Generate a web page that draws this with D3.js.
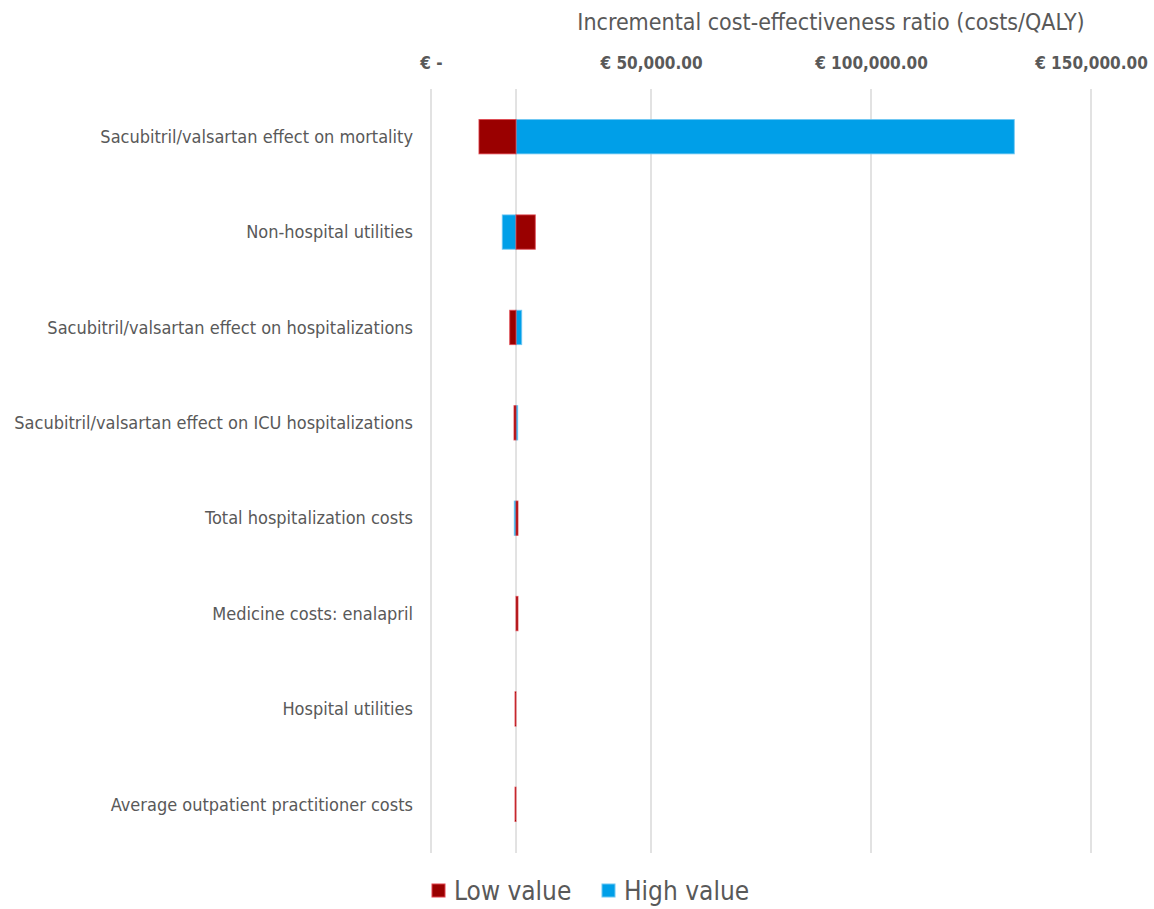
<!DOCTYPE html>
<html>
<head>
<meta charset="utf-8">
<script src="https://cdn.jsdelivr.net/npm/d3@7/dist/d3.min.js"></script>
<style>
  html, body { margin: 0; padding: 0; background: #fff; }
  svg { display: block; }
  text { font-family: "DejaVu Sans Condensed", "Liberation Sans Narrow", sans-serif; fill: #595959; }
</style>
</head>
<body>
<svg id="chart" width="1154" height="909"></svg>
<script>
// One-way sensitivity analysis (tornado diagram) of the ICER
const categories = [
  "Sacubitril/valsartan effect on mortality",
  "Non-hospital utilities",
  "Sacubitril/valsartan effect on hospitalizations",
  "Sacubitril/valsartan effect on ICU hospitalizations",
  "Total hospitalization costs",
  "Medicine costs: enalapril",
  "Hospital utilities",
  "Average outpatient practitioner costs"
];
const baseCase = 19320;
const lowValues  = [10900, 23700, 17890, 18860, 19770, 19770, 19090, 19090];
const highValues = [132570, 16200, 20610, 19700, 18930, 19320, 19320, 19320];
const tickValues = [0, 50000, 100000, 150000];
const tickLabels = ["€ -", "€ 50,000.00", "€ 100,000.00", "€ 150,000.00"];
const axisTitle = "Incremental cost-effectiveness ratio (costs/QALY)";
const seriesNames = ["Low value", "High value"];

const colors = {
  low:  { fill: "#9a0000", stroke: "#e0404a" },
  high: { fill: "#009fe8", stroke: "#6cc6f2" }
};

const svg = d3.select("#chart");

const x = d3.scaleLinear().domain([0, 150000]).range([431, 1091]);
const y = d3.scaleBand().domain(categories).range([89, 852])
  .paddingInner(0.64).paddingOuter(0.32);

// vertical gridlines
svg.append("g").selectAll("line").data(tickValues).join("line")
  .attr("x1", d => x(d)).attr("x2", d => x(d))
  .attr("y1", 89).attr("y2", 853)
  .attr("stroke", "#d9d9d9").attr("stroke-width", 1.5);

// category axis crossing at the base-case ICER
svg.append("line")
  .attr("x1", x(baseCase)).attr("x2", x(baseCase))
  .attr("y1", 89).attr("y2", 853)
  .attr("stroke", "#d9d9d9").attr("stroke-width", 1.5);

// top value axis
const axis = d3.axisTop(x).tickValues(tickValues)
  .tickFormat((d, i) => tickLabels[i]).tickSize(0).tickPadding(0);
const axisG = svg.append("g").attr("transform", "translate(0,69)").call(axis);
axisG.select(".domain").remove();
axisG.selectAll("text")
  .attr("font-size", 17).attr("font-weight", "bold")
  .style("fill", "#595959")
  .style("font-family", "\"DejaVu Sans Condensed\", \"Liberation Sans Narrow\", sans-serif");

svg.append("text")
  .attr("x", 831).attr("y", 30)
  .attr("text-anchor", "middle")
  .attr("font-size", 23)
  .text(axisTitle);

// bars from base case to each bound
function barSeries(values, c, cls) {
  svg.append("g").attr("class", cls).selectAll("rect").data(values).join("rect")
    .attr("x", d => Math.min(x(d), x(baseCase)))
    .attr("width", d => Math.abs(x(d) - x(baseCase)))
    .attr("y", (d, i) => y(categories[i]))
    .attr("height", y.bandwidth())
    .attr("fill", c.fill)
    .attr("stroke", c.stroke)
    .attr("stroke-width", 1)
    .attr("stroke-opacity", 0.8);
}
barSeries(highValues, colors.high, "high");
barSeries(lowValues, colors.low, "low");

// category labels
svg.append("g").selectAll("text").data(categories).join("text")
  .attr("x", 413)
  .attr("y", d => y(d) + y.bandwidth() / 2)
  .attr("dy", "0.35em")
  .attr("text-anchor", "end")
  .attr("font-size", 18)
  .text(d => d);

// legend
const legend = svg.append("g").attr("transform", "translate(0,891)");
const legendItems = [
  { name: seriesNames[0], c: colors.low, x: 432 },
  { name: seriesNames[1], c: colors.high, x: 602 }
];
legendItems.forEach(it => {
  legend.append("rect")
    .attr("x", it.x).attr("y", -7).attr("width", 13).attr("height", 13)
    .attr("fill", it.c.fill).attr("stroke", it.c.stroke).attr("stroke-width", 1);
  legend.append("text")
    .attr("x", it.x + 22).attr("y", 0).attr("dy", "0.35em")
    .attr("font-size", 26)
    .text(it.name);
});
</script>
</body>
</html>
